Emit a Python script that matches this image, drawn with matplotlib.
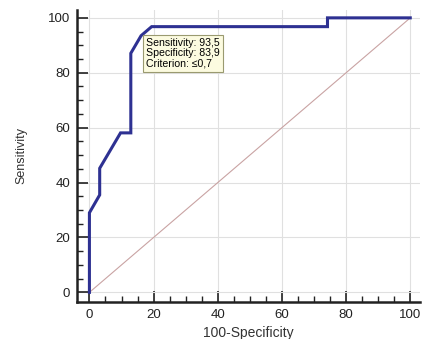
import matplotlib
matplotlib.use("Agg")
import matplotlib.pyplot as plt
from matplotlib.ticker import MultipleLocator

plt.rcParams['font.family'] = ['Liberation Sans', 'DejaVu Sans']

# ROC curve points (100-Specificity, Sensitivity)
fpr = [0, 0, 3.2, 3.2, 9.7, 12.9, 12.9, 16.1, 19.4, 74.2, 74.2, 100]
tpr = [0, 29.0, 35.5, 45.2, 58.1, 58.1, 87.1, 93.5, 96.8, 96.8, 100, 100]
ref_x = [0, 100]
ref_y = [0, 100]
crit_x, crit_y = 16.1, 93.5
box_text = "Sensitivity: 93,5\nSpecificity: 83,9\nCriterion: \u22640,7"
ticks = [0, 20, 40, 60, 80, 100]

fig = plt.figure(figsize=(4.22, 3.39), dpi=100)
ax = fig.add_axes([0.183, 0.110, 0.812, 0.86])

ax.plot(ref_x, ref_y, color='#c9a3a3', lw=0.8, zorder=2)
ax.plot(fpr, tpr, color='#2e3192', lw=2.2, zorder=3, solid_joinstyle='miter')

ax.set_xlim(-3.8, 103)
ax.set_ylim(-3.4, 102.8)
ax.set_xticks(ticks)
ax.set_yticks(ticks)
ax.xaxis.set_minor_locator(MultipleLocator(5))
ax.yaxis.set_minor_locator(MultipleLocator(5))
ax.tick_params(which='major', direction='in', length=8, width=1.2, labelsize=9.5,
               color='#222222', labelcolor='#222222', pad=5)
ax.tick_params(which='minor', direction='in', length=4, width=1.0, color='#222222')
ax.grid(True, which='major', color='#e0e0e0', lw=0.8, zorder=0)
ax.set_axisbelow(True)

for s in ['top', 'right']:
    ax.spines[s].set_visible(False)
for s in ['left', 'bottom']:
    ax.spines[s].set_linewidth(1.8)
    ax.spines[s].set_color('#222222')

ax.set_xlabel('100-Specificity', fontsize=10, labelpad=4, color='#333333')
ax.set_ylabel('Sensitivity', fontsize=9, color='#333333')
ax.yaxis.set_label_coords(-0.145, 0.5)

ax.annotate(box_text, xy=(crit_x, crit_y), xytext=(crit_x + 1.5, crit_y - 0.8),
            fontsize=7.6, ha='left', va='top', linespacing=1.05, zorder=5,
            bbox=dict(boxstyle='square,pad=0.3', fc='#fcfbe0', ec='#9a9a70', lw=0.8))

fig.savefig('out.png', dpi=100)
